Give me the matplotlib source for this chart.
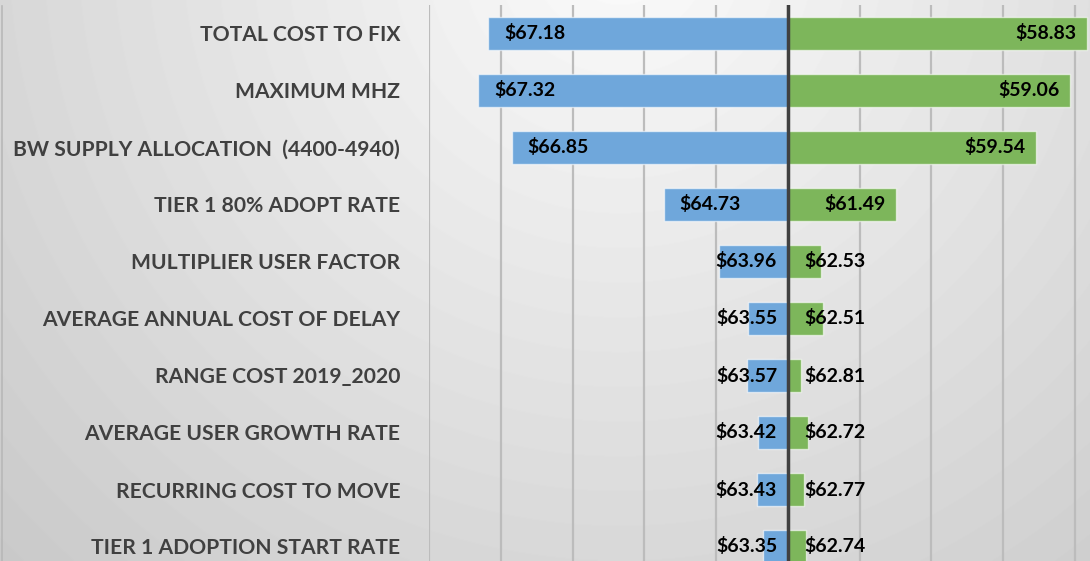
import numpy as np
import matplotlib
matplotlib.use('Agg')
import matplotlib.pyplot as plt
from matplotlib.lines import Line2D

# Tornado chart data
BASE = 63.0
categories = [
    'TOTAL COST TO FIX',
    'MAXIMUM MHZ',
    'BW SUPPLY ALLOCATION  (4400-4940)',
    'TIER 1 80% ADOPT RATE',
    'MULTIPLIER USER FACTOR',
    'AVERAGE ANNUAL COST OF DELAY',
    'RANGE COST 2019_2020',
    'AVERAGE USER GROWTH RATE',
    'RECURRING COST TO MOVE',
    'TIER 1 ADOPTION START RATE',
]
low_vals = [67.18, 67.32, 66.85, 64.73, 63.96, 63.55, 63.57, 63.42, 63.43, 63.35]
high_vals = [58.83, 59.06, 59.54, 61.49, 62.53, 62.51, 62.81, 62.72, 62.77, 62.74]
grid_ticks = [59, 60, 61, 62, 63, 64, 65, 66, 67, 68]

BLUE = '#6fa7db'
GREEN = '#7db65b'

plt.rcParams['font.family'] = ['Lato', 'DejaVu Sans']

fig = plt.figure(figsize=(10.9, 5.61), dpi=100)

# background gradient (light at top centre, darker to the edges)
bg = fig.add_axes([0, 0, 1, 1], zorder=0)
yy, xx = np.mgrid[0:561, 0:1090]
dist = np.sqrt((xx - 620) ** 2 + (yy + 50) ** 2)
shade = np.clip(0.985 - 0.000225 * dist, 0.78, 1.0)
bg.imshow(shade, cmap='gray', vmin=0, vmax=1, aspect='auto', extent=[0, 1, 0, 1], origin='upper')
bg.set_axis_off()
fig.add_artist(Line2D([0.002, 0.002], [0, 0.99], color='#b8b8b8', lw=1.2, transform=fig.transFigure))

ax = fig.add_axes([429.3 / 1090, 1 - 575 / 561, (1090 - 429.3) / 1090, 570 / 561], zorder=1)
ax.set_facecolor('none')

y = np.arange(len(categories))
low = np.array(low_vals)
high = np.array(high_vals)

ax.barh(y, low - BASE, left=BASE, height=0.58, color=BLUE,
        edgecolor=(1, 1, 1, 0.6), linewidth=1, zorder=2)
ax.barh(y, high - BASE, left=BASE, height=0.58, color=GREEN,
        edgecolor=(1, 1, 1, 0.6), linewidth=1, zorder=2)

lbl = dict(fontsize=14, fontweight='bold', color='black', va='center', zorder=4)
for i in range(len(categories)):
    if low[i] - BASE > 1.2:
        ax.text(low[i] - 0.22, i, f'${low[i]:.2f}', ha='left', **lbl)
    else:
        ax.text(BASE + 0.15, i, f'${low[i]:.2f}', ha='right', **lbl)
    if BASE - high[i] > 1.2:
        ax.text(high[i] + 0.15, i, f'${high[i]:.2f}', ha='right', **lbl)
    else:
        ax.text(BASE - 0.23, i, f'${high[i]:.2f}', ha='left', **lbl)

ax.axvline(BASE, color='#404040', lw=2.5, zorder=3)

ax.set_xlim(68, 68 - (1090 - 429.3) / 71.7)
ax.set_ylim(9.5, -0.5)
ax.set_xticks(grid_ticks)
ax.set_xticklabels([])
ax.grid(axis='x', color='#bcbcbc', lw=1.6, zorder=1)
ax.set_axisbelow(True)
ax.set_yticks(y)
ax.set_yticklabels(categories, fontsize=15.2, fontweight='bold', color='#404040')
ax.tick_params(axis='both', length=0, pad=21)
for s in ax.spines.values():
    s.set_visible(False)

fig.savefig('out.png', dpi=100)
